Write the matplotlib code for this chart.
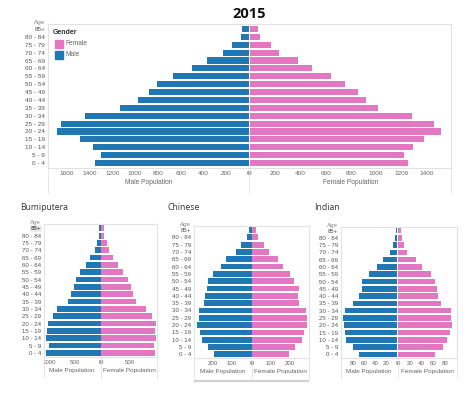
import matplotlib
matplotlib.use("Agg")
import matplotlib.pyplot as plt
from matplotlib.patches import Rectangle
from matplotlib.lines import Line2D

plt.rcParams['font.family'] = ['Liberation Sans', 'DejaVu Sans']

# age groups, bottom (0 - 4) to top (85+)
ages = ['0 - 4', '5 - 9', '10 - 14', '15 - 19', '20 - 24', '25 - 29', '30 - 34',
        '35 - 39', '40 - 44', '45 - 49', '50 - 54', '55 - 59', '60 - 64',
        '65 - 69', '70 - 74', '75 - 79', '80 - 84', '85+']

# 2015 totals
total_male = [1353, 1303, 1374, 1482, 1684, 1655, 1438, 1133, 972, 875,
              811, 668, 503, 372, 225, 149, 73, 61]
total_female = [1252, 1223, 1294, 1379, 1516, 1458, 1281, 1014, 919, 858,
                755, 639, 494, 378, 232, 164, 79, 66]

# Bumiputera
bumi_male = [1067, 1020, 1067, 1047, 1027, 935, 851, 647, 582, 529,
             490, 406, 294, 204, 118, 78, 39, 33]
bumi_female = [947, 929, 959, 952, 959, 900, 794, 606, 559, 529,
               471, 388, 295, 212, 136, 95, 48, 42]

# Chinese
chin_male = [190, 220, 250, 262, 276, 266, 266, 244, 237, 225,
             222, 194, 157, 128, 81, 56, 25, 15]
chin_female = [198, 228, 264, 278, 294, 292, 285, 250, 244, 248,
               225, 200, 166, 137, 89, 64, 30, 21]

# Indian
ind_male = [70, 81, 93, 95, 97, 99, 95, 81, 70, 64,
            64, 52, 38, 27, 13, 8, 4, 3]
ind_female = [63, 76, 84, 88, 92, 91, 90, 74, 68, 67,
              63, 56, 41, 30, 16, 11, 6, 4.5]

BLUE = '#1f77b4'
PINK = '#e377c2'
GRID = '#e2e2e2'
TXT = '#666666'

W, H = 474, 395
fig = plt.figure(figsize=(W / 100, H / 100), dpi=100)


def px_axes(x0, y0, x1, y1):
    return fig.add_axes([x0 / W, 1 - y1 / H, (x1 - x0) / W, (y1 - y0) / H])


def ftext(x, y, s, **kw):
    fig.text(x / W, 1 - y / H, s, **kw)


def fline(x0, y0, x1, y1, color=GRID, lw=0.8):
    fig.add_artist(Line2D([x0 / W, x1 / W], [1 - y0 / H, 1 - y1 / H],
                          transform=fig.transFigure, color=color, lw=lw))


def pyramid(box_m, box_f, y0, y1, male, female, mlim, flim, mticks, fticks,
            ylim, frame_bottom, fs=4.6, bold_top=False):
    axm = px_axes(box_m[0], y0, box_m[1], y1)
    axf = px_axes(box_f[0], y0, box_f[1], y1)
    pos = list(range(len(ages)))
    axm.barh(pos, male, height=0.78, color=BLUE)
    axf.barh(pos, female, height=0.78, color=PINK)
    axm.set_xlim(mlim, 0)
    axf.set_xlim(0, flim)
    for ax in (axm, axf):
        ax.set_ylim(*ylim)
        for sp in ax.spines.values():
            sp.set_color(GRID)
            sp.set_linewidth(0.8)
        ax.tick_params(length=0, labelsize=fs, labelcolor=TXT, pad=2.5)
    axm.spines['right'].set_visible(False)
    axf.spines['left'].set_visible(False)
    axm.set_xticks(mticks)
    axm.set_xticklabels([str(t) for t in mticks])
    axf.set_xticks(fticks)
    axf.set_xticklabels([str(t) for t in fticks])
    axm.set_yticks(pos)
    axm.set_yticklabels(ages, color='#555555')
    axm.tick_params(axis='y', pad=2)
    axf.set_yticks([])
    if bold_top:
        lbl = axm.get_yticklabels()[-1]
        lbl.set_fontweight('bold')
        lbl.set_bbox(dict(facecolor='#ececec', edgecolor='none', pad=0.6))
    axm.set_xlabel('Male Population', fontsize=fs + 0.2, color=TXT, labelpad=2)
    axf.set_xlabel('Female Population', fontsize=fs + 0.2, color=TXT, labelpad=2)
    ftext(box_m[0] - 3, y0 - 1.5, 'Age', fontsize=fs, color='#888888',
          ha='right', va='center')
    # faint cell borders under the axes
    zero = (box_m[1] + box_f[0]) / 2
    for x in (box_m[0], zero, box_f[1]):
        fline(x, y1, x, frame_bottom, lw=0.6)
    return axm, axf


# top chart: all groups
ftext(249, 14, '2015', fontsize=10.5, fontweight='bold', family='Open Sans',
      ha='center', va='center', color='#111111')
pyramid((48, 249), (250, 451), 24, 168, total_male, total_female,
        1766, 1593, list(range(0, 1601, 200)), list(range(0, 1401, 200)),
        (-0.63, 17.63), 193, fs=4.6)

# legend
ftext(53, 33, 'Gender', fontsize=5, fontweight='bold', color='#333333',
      ha='left', va='center')
fig.add_artist(Rectangle((54.5 / W, 1 - 47.5 / H), 8 / W, 8 / H,
                         transform=fig.transFigure, color=PINK))
fig.add_artist(Rectangle((54.5 / W, 1 - 58.5 / H), 8 / W, 8 / H,
                         transform=fig.transFigure, color=BLUE))
ftext(66, 43.5, 'Female', fontsize=4.8, color=TXT, ha='left', va='center')
ftext(66, 54.5, 'Male', fontsize=4.8, color=TXT, ha='left', va='center')

# bottom charts by ethnic group
ftext(20, 207, 'Bumiputera', fontsize=6.2, family='Open Sans', color='#333333',
      ha='left', va='center')
pyramid((43.7, 100.7), (101.3, 156.7), 224.3, 356.5, bumi_male, bumi_female,
        1118, 977, [0, 500, 1000], [0, 500], (-0.5, 17.55), 378, fs=4.4,
        bold_top=True)

ftext(167.5, 208, 'Chinese', fontsize=6.2, family='Open Sans', color='#333333',
      ha='left', va='center')
pyramid((194, 251.7), (252.3, 309), 226, 358, chin_male, chin_female,
        293, 303, [0, 100, 200], [0, 100, 200], (-0.5, 17.55), 379, fs=4.4)
fline(195, 380.8, 308, 380.8, color='#d2d2d2', lw=1.6)

ftext(314, 208, 'Indian', fontsize=6.2, family='Open Sans', color='#333333',
      ha='left', va='center')
pyramid((341, 397.3), (398, 456.7), 226.5, 358, ind_male, ind_female,
        103, 100, [0, 20, 40, 60, 80], [0, 20, 40, 60, 80], (-0.5, 17.55),
        378, fs=4.4)

fig.savefig('out.png', dpi=100)
